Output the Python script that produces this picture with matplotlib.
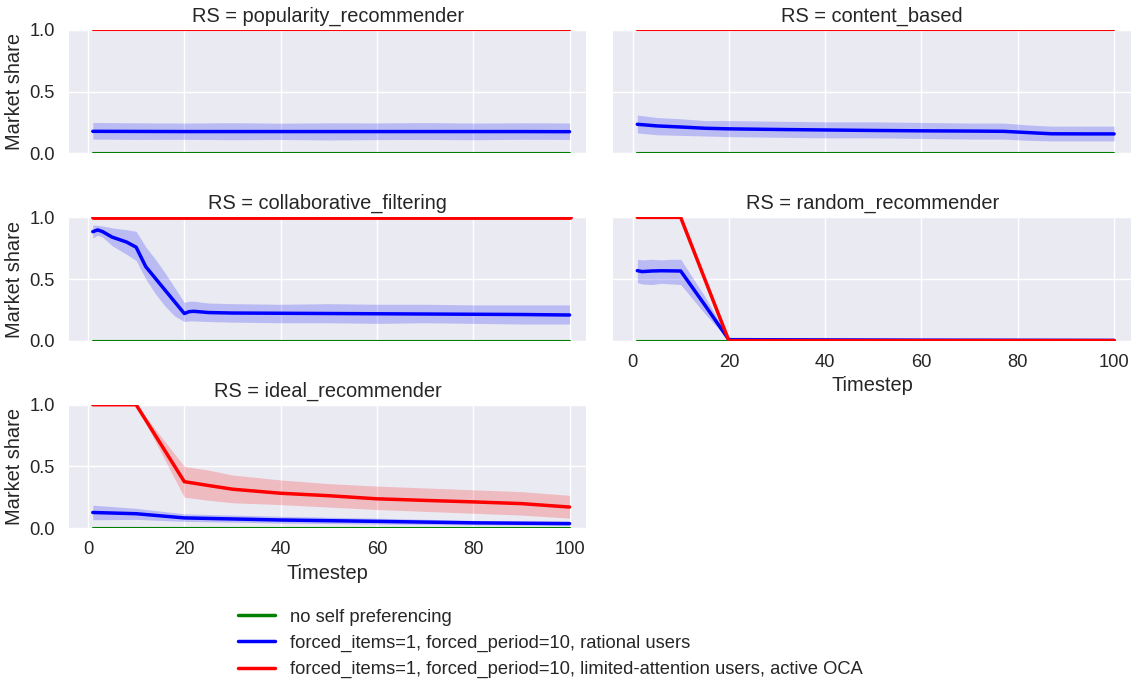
import matplotlib
matplotlib.use("Agg")
import matplotlib.pyplot as plt
from matplotlib.lines import Line2D
import seaborn as sns

# ---- data: market share of the platform-owned items over time ----
panels = ["popularity_recommender", "content_based", "collaborative_filtering",
          "random_recommender", "ideal_recommender"]

legend_labels = [
    "no self preferencing",
    "forced_items=1, forced_period=10, rational users",
    "forced_items=1, forced_period=10, limited-attention users, active OCA",
]

span_t = [1, 100]
zero_share = [0.0, 0.0]
full_share = [1.0, 1.0]

# popularity_recommender: rational users
pop_t = [1, 10, 20, 30, 40, 50, 60, 70, 80, 90, 100]
pop_mean = [0.178, 0.177, 0.176, 0.176, 0.176, 0.176, 0.176, 0.176, 0.176, 0.176, 0.175]
pop_lo = [0.115, 0.112, 0.113, 0.110, 0.112, 0.108, 0.111, 0.112, 0.110, 0.113, 0.112]
pop_hi = [0.250, 0.247, 0.245, 0.248, 0.244, 0.247, 0.246, 0.249, 0.245, 0.247, 0.246]

# content_based: rational users
cb_t = [1, 5, 10, 15, 20, 30, 40, 50, 60, 70, 77, 82, 87, 95, 100]
cb_mean = [0.235, 0.222, 0.213, 0.203, 0.198, 0.193, 0.189, 0.185, 0.182, 0.180,
           0.178, 0.168, 0.158, 0.157, 0.157]
cb_lo = [0.165, 0.150, 0.145, 0.140, 0.135, 0.130, 0.125, 0.125, 0.120, 0.115,
         0.115, 0.105, 0.100, 0.100, 0.100]
cb_hi = [0.310, 0.290, 0.280, 0.265, 0.265, 0.260, 0.255, 0.255, 0.250, 0.245,
         0.245, 0.230, 0.220, 0.220, 0.220]

# collaborative_filtering: rational users
cf_t = [1, 2, 3, 5, 8, 10, 12, 14, 16, 18, 20, 21, 22, 25, 30, 40, 50, 60, 70, 80, 90, 100]
cf_mean = [0.884, 0.898, 0.885, 0.840, 0.800, 0.758, 0.600, 0.505, 0.410, 0.315, 0.220,
           0.235, 0.238, 0.228, 0.224, 0.222, 0.220, 0.218, 0.216, 0.214, 0.212, 0.208]
cf_lo = [0.833, 0.855, 0.840, 0.770, 0.700, 0.650, 0.500, 0.380, 0.280, 0.200, 0.155,
         0.160, 0.160, 0.155, 0.150, 0.145, 0.145, 0.140, 0.145, 0.140, 0.135, 0.135]
cf_hi = [0.938, 0.935, 0.930, 0.915, 0.900, 0.887, 0.760, 0.660, 0.550, 0.430, 0.310,
         0.320, 0.320, 0.305, 0.300, 0.295, 0.300, 0.295, 0.295, 0.290, 0.290, 0.290]

# random_recommender: rational users
rr_t = [1, 2, 4, 6, 8, 10, 15, 20, 30, 40, 50, 60, 80, 100]
rr_mean = [0.568, 0.560, 0.565, 0.567, 0.566, 0.565, 0.290, 0.008, 0.007, 0.006,
           0.005, 0.004, 0.003, 0.002]
rr_lo = [0.470, 0.460, 0.455, 0.465, 0.460, 0.455, 0.220, 0.004, 0.004, 0.003,
         0.003, 0.002, 0.002, 0.001]
rr_hi = [0.660, 0.655, 0.660, 0.655, 0.660, 0.660, 0.360, 0.015, 0.013, 0.011,
         0.008, 0.005, 0.004, 0.003]
# random_recommender: limited-attention users
rr_oca_t = [1, 10, 20, 100]
rr_oca_mean = [1.0, 1.0, 0.0, 0.0]

# ideal_recommender: rational users
ir_t = [1, 10, 20, 40, 60, 80, 100]
ir_mean = [0.126, 0.116, 0.082, 0.065, 0.054, 0.042, 0.036]
ir_lo = [0.067, 0.070, 0.054, 0.040, 0.032, 0.025, 0.020]
ir_hi = [0.185, 0.160, 0.115, 0.095, 0.080, 0.062, 0.054]
# ideal_recommender: limited-attention users
ir_oca_t = [1, 10, 20, 25, 30, 40, 50, 60, 70, 80, 90, 100]
ir_oca_mean = [1.0, 1.0, 0.376, 0.345, 0.315, 0.282, 0.262, 0.237, 0.224, 0.212, 0.198, 0.170]
ir_oca_lo = [1.0, 1.0, 0.250, 0.225, 0.205, 0.190, 0.170, 0.150, 0.135, 0.120, 0.105, 0.080]
ir_oca_hi = [1.0, 1.0, 0.500, 0.470, 0.430, 0.390, 0.360, 0.340, 0.325, 0.310, 0.295, 0.265]

# ---- style ----
sns.set_theme(context="notebook", style="darkgrid", font_scale=1.2)
plt.rcParams["font.family"] = ["Liberation Sans", "DejaVu Sans"]

GREEN, BLUE, RED = "green", "blue", "red"
LW = 2.5
THIN = 1.5

fig = plt.figure(figsize=(11.38, 6.8), dpi=100)
gs = fig.add_gridspec(3, 2, left=0.0606, right=0.9938, top=0.9559, bottom=0.2235,
                      wspace=0.0523, hspace=0.52)

axes = {}
positions = [(0, 0), (0, 1), (1, 0), (1, 1), (2, 0)]
first = None
for name, (r, c) in zip(panels, positions):
    ax = fig.add_subplot(gs[r, c], sharex=first, sharey=first)
    if first is None:
        first = ax
    for sp in ax.spines.values():
        sp.set_visible(False)
    axes[name] = ax


def band(ax, t, mean, lo, hi, color, lw=LW):
    ax.fill_between(t, lo, hi, color=color, alpha=0.2, linewidth=0)
    ax.plot(t, mean, color=color, lw=lw)


# popularity_recommender
ax = axes["popularity_recommender"]
ax.plot(span_t, zero_share, color=GREEN, lw=THIN)
band(ax, pop_t, pop_mean, pop_lo, pop_hi, BLUE)
ax.plot(span_t, full_share, color=RED, lw=THIN)

# content_based
ax = axes["content_based"]
ax.plot(span_t, zero_share, color=GREEN, lw=THIN)
band(ax, cb_t, cb_mean, cb_lo, cb_hi, BLUE)
ax.plot(span_t, full_share, color=RED, lw=THIN)

# collaborative_filtering
ax = axes["collaborative_filtering"]
ax.plot(span_t, zero_share, color=GREEN, lw=THIN)
band(ax, cf_t, cf_mean, cf_lo, cf_hi, BLUE)
ax.plot(span_t, full_share, color=RED, lw=3.5)

# random_recommender
ax = axes["random_recommender"]
ax.plot(span_t, zero_share, color=GREEN, lw=THIN)
band(ax, rr_t, rr_mean, rr_lo, rr_hi, BLUE)
ax.plot(rr_oca_t, rr_oca_mean, color=RED, lw=LW)

# ideal_recommender
ax = axes["ideal_recommender"]
ax.plot(span_t, zero_share, color=GREEN, lw=THIN)
band(ax, ir_t, ir_mean, ir_lo, ir_hi, BLUE)
band(ax, ir_oca_t, ir_oca_mean, ir_oca_lo, ir_oca_hi, RED)

for name, (r, c) in zip(panels, positions):
    ax = axes[name]
    ax.set_title(f"RS = {name}")
    ax.set_ylim(0, 1)
    ax.set_yticks([0.0, 0.5, 1.0])
    ax.set_xlim(-3.95, 103.5)
    ax.set_xticks([0, 20, 40, 60, 80, 100])
    ax.tick_params(axis="y", pad=4)
    if c == 0:
        ax.set_ylabel("Market share")
    else:
        ax.tick_params(labelleft=False)
    if name in ("random_recommender", "ideal_recommender"):
        ax.set_xlabel("Timestep")
    else:
        ax.tick_params(labelbottom=False)

handles = [Line2D([], [], color=GREEN, lw=LW),
           Line2D([], [], color=BLUE, lw=LW),
           Line2D([], [], color=RED, lw=LW)]
fig.legend(handles, legend_labels, loc="upper left", bbox_to_anchor=(0.1948, 0.1293),
           frameon=False, handlelength=2.0, handletextpad=0.8, labelspacing=0.5)

fig.savefig("out.png", dpi=100)
